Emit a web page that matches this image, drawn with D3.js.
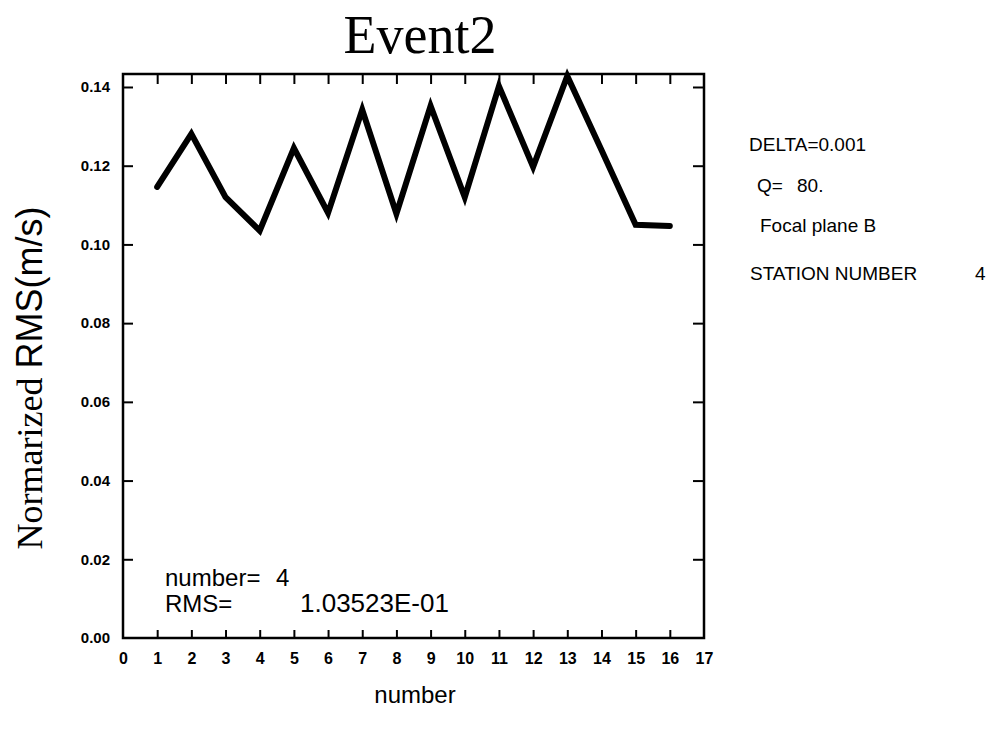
<!DOCTYPE html>
<html>
<head>
<meta charset="utf-8"/>
<title>Event2</title>
<style>
  body { margin: 0; background: #fff; }
  svg { display: block; }
</style>
</head>
<body>
<svg width="1002" height="734"></svg>
<script src="https://d3js.org/d3.v7.min.js"></script>
<script>

// data
var numbers = [1, 2, 3, 4, 5, 6, 7, 8, 9, 10, 11, 12, 13, 14, 15, 16];
var rms = [0.1146, 0.1281, 0.1120, 0.1035, 0.1245, 0.1080, 0.1342, 0.1078,
           0.1352, 0.1120, 0.1402, 0.1197, 0.1428, 0.1240, 0.1050, 0.1047];
var xTicks = d3.range(0, 18);
var yTicks = [0, 0.02, 0.04, 0.06, 0.08, 0.10, 0.12, 0.14];
var noteLabels = ["DELTA=0.001", "Q=", "Focal plane B", "STATION NUMBER"];
var noteValues = ["", "80.", "", "4"];

var svg = d3.select("svg"),
    pLeft = 123, pRight = 704, pTop = 74, pBottom = 638;

var x = d3.scaleLinear().domain([0, 17]).range([pLeft, pRight]);
var y = d3.scaleLinear().domain([0, 0.1433]).range([pBottom, pTop]);

var sans = "'Liberation Sans', Arial, sans-serif",
    serif = "'Liberation Serif', 'Times New Roman', serif";

// frame
svg.append("rect")
    .attr("x", pLeft).attr("y", pTop)
    .attr("width", pRight - pLeft).attr("height", pBottom - pTop)
    .attr("fill", "none").attr("stroke", "#000").attr("stroke-width", 2.5);

// bottom axis: ticks point inward, labels under it
var xAxis = d3.axisBottom(x).tickValues(xTicks).tickSize(-8).tickPadding(15)
    .tickFormat(d3.format("d"));
var gx = svg.append("g").attr("transform", "translate(0," + pBottom + ")").call(xAxis);

// top axis, ticks only
var gxt = svg.append("g").attr("transform", "translate(0," + pTop + ")")
    .call(d3.axisTop(x).tickValues(xTicks.slice(1, 17)).tickSize(-10).tickFormat(""));

// left axis with labels, ticks pointing in
var yAxis = d3.axisLeft(y).tickValues(yTicks).tickSize(-10).tickPadding(13)
    .tickFormat(d3.format(".2f"));
var gy = svg.append("g").attr("transform", "translate(" + pLeft + ",0)").call(yAxis);

// right axis, ticks only
var gyr = svg.append("g").attr("transform", "translate(" + pRight + ",0)")
    .call(d3.axisRight(y).tickValues(yTicks.slice(1)).tickSize(-11).tickFormat(""));

[gx, gxt, gy, gyr].forEach(function(g) {
  g.select(".domain").remove();
  g.selectAll(".tick line").attr("stroke", "#000").attr("stroke-width", 2);
  g.selectAll(".tick text")
      .attr("fill", "#000")
      .style("font-family", sans)
      .style("font-weight", "bold")
      .style("font-size", "16px");
});
gx.selectAll(".tick").filter(function(d) { return d == 0 || d == 17; }).select("line").remove();
gy.selectAll(".tick").filter(function(d) { return d == 0; }).select("line").remove();
gy.selectAll(".tick text").style("font-size", "15px");

// the series
var line = d3.line()
    .x(function(d, i) { return x(numbers[i]); })
    .y(function(d) { return y(d); });

svg.append("path")
    .datum(rms)
    .attr("d", line)
    .attr("fill", "none")
    .attr("stroke", "#000")
    .attr("stroke-width", 6)
    .attr("stroke-linejoin", "miter")
    .attr("stroke-linecap", "round");

// title
svg.append("text")
    .attr("x", 420).attr("y", 53)
    .attr("text-anchor", "middle")
    .style("font-family", serif)
    .style("font-size", "54px")
    .text("Event2");

// y label: serif word, sans unit
var yl = svg.append("text")
    .attr("transform", "translate(42,378) rotate(-90)")
    .attr("text-anchor", "middle")
    .style("font-size", "36px");
yl.append("tspan").style("font-family", serif).text("Normarized ");
yl.append("tspan").style("font-family", sans).text("RMS(m/s)");

// x label
svg.append("text")
    .attr("x", 415).attr("y", 703)
    .attr("text-anchor", "middle")
    .style("font-family", sans)
    .style("font-size", "24px")
    .text("number");

// readout inside the plot
var t1 = svg.append("text").attr("y", 586)
    .style("font-family", sans).style("font-size", "24px");
t1.append("tspan").attr("x", 165).text("number=");
t1.append("tspan").attr("x", 276).text("4");
var t2 = svg.append("text").attr("y", 612)
    .style("font-family", sans).style("font-size", "24px");
t2.append("tspan").attr("x", 165).text("RMS=");
t2.append("tspan").attr("x", 300).style("font-size", "26px").text("1.03523E-01");

// notes on the right
var noteX = [749, 757, 760, 750],
    valueX = [0, 797, 0, 975],
    noteY = [151, 192, 232, 280];
var notes = svg.selectAll(".note")
    .data(noteLabels)
    .enter().append("text")
    .attr("class", "note")
    .attr("y", function(d, i) { return noteY[i]; })
    .style("font-family", sans)
    .style("font-size", "19px");
notes.append("tspan")
    .attr("x", function(d, i) { return noteX[i]; })
    .text(function(d) { return d; });
notes.filter(function(d, i) { return noteValues[i] != ""; })
    .append("tspan")
    .attr("x", function(d) { return valueX[noteLabels.indexOf(d)]; })
    .text(function(d) { return noteValues[noteLabels.indexOf(d)]; });

</script>
</body>
</html>
